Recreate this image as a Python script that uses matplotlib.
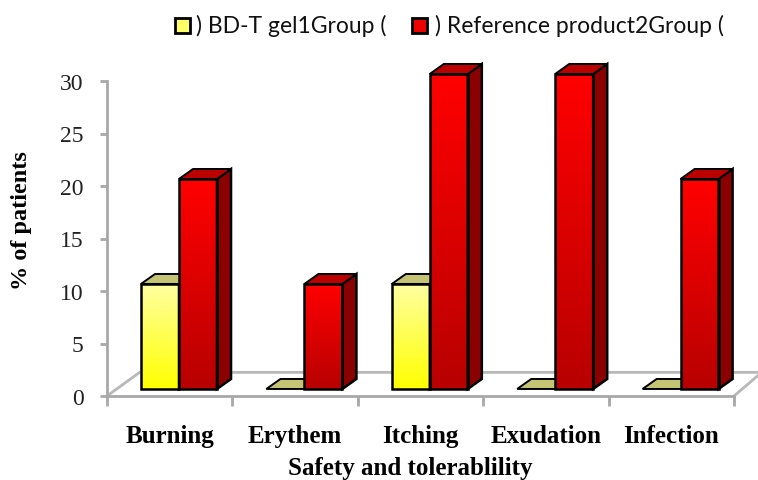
import numpy as np
import matplotlib
matplotlib.use('Agg')
import matplotlib.pyplot as plt
from matplotlib.colors import LinearSegmentedColormap
from matplotlib.patches import Polygon, Rectangle

# Data
categories = ['Burning', 'Erythem', 'Itching', 'Exudation', 'Infection']
bd_gel = [10, 0, 10, 0, 0]
reference = [20, 10, 30, 30, 20]
legend_labels = [') BD-T gel1Group (', ') Reference product2Group (']
y_ticks = [0, 5, 10, 15, 20, 25, 30]

# 3D look (data units)
bar_w = 0.303
bar_start = 0.271
dx = 0.112
dy = 0.95
base = 0.67
floor_dx = 0.26
floor_dy = 2.25

yellow_map = LinearSegmentedColormap.from_list('y', ['#ffff00', '#ffffa0'])
red_map = LinearSegmentedColormap.from_list('r', ['#b80000', '#ff0000'])
grad = np.linspace(1, 0, 64).reshape(-1, 1)

fig = plt.figure(figsize=(7.58, 4.81), dpi=100)
ax = fig.add_axes([107 / 758, 84 / 481, 651 / 758, 315 / 481])
xmax = 5 * 651 / 627


def draw_bar(x, val, cmap, side_col, top_col):
    top = base + val
    if val > 0:
        ax.imshow(grad, cmap=cmap, vmin=0, vmax=1, aspect='auto', zorder=3, clip_on=False,
                  extent=[x, x + bar_w, base, top], interpolation='bilinear')
        ax.add_patch(Polygon([(x + bar_w, base), (x + bar_w + dx, base + dy),
                              (x + bar_w + dx, top + dy), (x + bar_w, top)],
                             fc=side_col, ec='black', lw=1.8, zorder=3, clip_on=False))
        ax.add_patch(Rectangle((x, base), bar_w, val, fc='none', ec='black', lw=1.8, zorder=3,
                               clip_on=False))
    ax.add_patch(Polygon([(x, top), (x + dx, top + dy), (x + bar_w + dx, top + dy), (x + bar_w, top)],
                         fc=top_col, ec='black', lw=1.4, zorder=3, clip_on=False))


# floor
ax.plot([0, floor_dx, xmax], [0, floor_dy, floor_dy], color='#b8b8b8', lw=2, zorder=1, clip_on=False)
ax.plot([5, xmax], [0, floor_dy - 0.3], color='#b8b8b8', lw=2, zorder=1, clip_on=False)

for i in range(len(categories)):
    draw_bar(i + bar_start, bd_gel[i], yellow_map, '#8a8a40', '#c4c474')
    draw_bar(i + bar_start + bar_w, reference[i], red_map, '#8b0000', '#bb0000')

ax.set_xlim(0, xmax)
ax.set_ylim(0, 30)
for s in ['top', 'right']:
    ax.spines[s].set_visible(False)
for s in ['left', 'bottom']:
    ax.spines[s].set_color('#a8a8a8')
    ax.spines[s].set_linewidth(2)
ax.spines['bottom'].set_bounds(0, 5)

ax.set_yticks(y_ticks)
ax.set_xticks(range(6))
ax.set_xticklabels([])
ax.set_xticks(np.arange(5) + 0.5, labels=categories, minor=True)
ax.tick_params(axis='x', which='major', length=7, width=2, color='#a8a8a8')
ax.tick_params(axis='x', which='minor', length=0, pad=20.5)
ax.tick_params(axis='y', length=5, width=2, color='#a8a8a8', pad=12)
for t in ax.get_yticklabels():
    t.set(family='Liberation Serif', size=17, color='#222222')
for t in ax.get_xticklabels(minor=True):
    t.set(family='Liberation Serif', weight='bold', size=18, color='black')

fig.text(410 / 758, 1 - 469 / 481, 'Safety and tolerablility', family='Liberation Serif',
         weight='bold', size=18, ha='center', va='center')
fig.text(22 / 758, 1 - 221 / 481, '% of patients', family='Liberation Serif',
         weight='bold', size=17.5, rotation=90, ha='center', va='center')

# legend
for px, tx, lab, col in [(175, 196, legend_labels[0], '#ffff66'), (412, 435, legend_labels[1], '#ee0000')]:
    fig.add_artist(Rectangle((px / 758, 1 - 34 / 481), 15 / 758, 15 / 481, fc=col, ec='black',
                             lw=2, transform=fig.transFigure))
    fig.text(tx / 758, 1 - 26 / 481, lab, family='Lato', size=16.5,
             ha='left', va='center', color='#111111')

fig.savefig('out.png', dpi=100)
